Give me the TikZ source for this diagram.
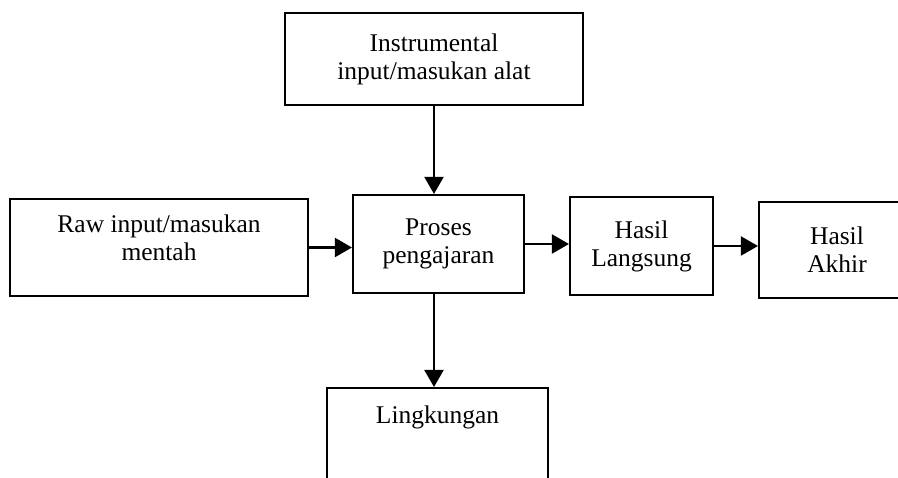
\documentclass[tikz,border=0pt]{standalone}
\usepackage{fontspec}
\setmainfont{Liberation Serif}
\usetikzlibrary{arrows.meta}

\tikzset{
  box/.style={draw=black, line width=1.2pt, rectangle, align=center,
    font=\fontsize{14.5}{16}\selectfont},
  flow/.style={line width=1.2pt, -{Triangle[length=0.34cm, width=0.38cm]}}
}

\begin{document}
\begin{tikzpicture}[scale=1.0]

\useasboundingbox (0,0) rectangle (17.96,9.56);
\clip (0,0) rectangle (17.96,9.56);

% boxes
\node[box, minimum width=5.96cm, minimum height=1.84cm] (instr) at (8.68,8.38) {Instrumental\\input/masukan alat};
\node[box, minimum width=5.96cm, minimum height=1.94cm, text depth=0.4cm] (raw) at (3.18,4.61) {Raw input/masukan\\mentah};
\node[box, minimum width=3.42cm, minimum height=1.96cm] (proses) at (8.77,4.68) {Proses\\pengajaran};
\node[box, minimum width=2.86cm, minimum height=1.96cm] (langsung) at (12.83,4.64) {Hasil\\Langsung};
\node[box, minimum width=3.12cm, minimum height=1.92cm] (akhir) at (16.74,4.56) {Hasil\\Akhir};
\node[box, anchor=north, minimum width=4.42cm, minimum height=2.8cm,
  label={[name=lingtext, anchor=north, yshift=-0.25cm, font=\fontsize{14.5}{16}\selectfont]north:Lingkungan}] (ling) at (8.75,1.82) {};

% arrows
\draw[flow] (instr.south) -- (instr.south |- proses.north);
\draw[flow] (raw.east) -- (raw.east -| proses.west);
\draw[flow] (proses.east) -- (proses.east -| langsung.west);
\draw[flow] (langsung.east) -- (langsung.east -| akhir.west);
\draw[flow] (proses.south -| instr.south) -- (ling.north -| instr.south);

\end{tikzpicture}
\end{document}
